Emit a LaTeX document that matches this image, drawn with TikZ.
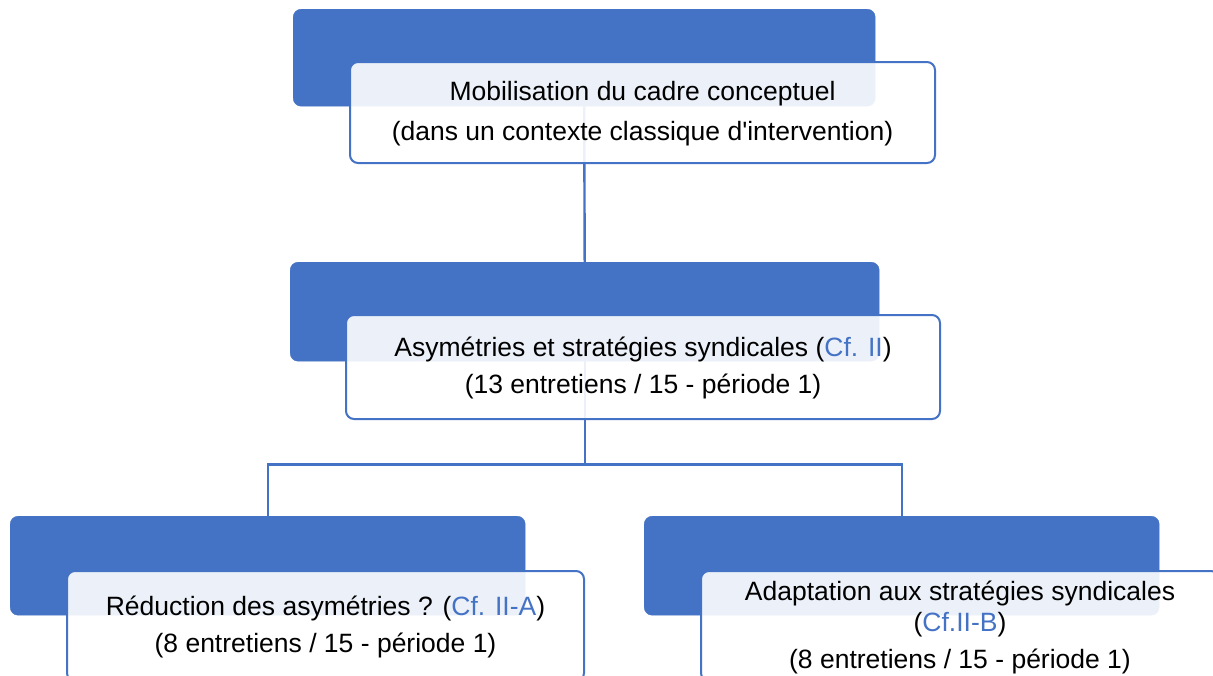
\documentclass[tikz,border=0pt]{standalone}
\usepackage{fontspec}
\setmainfont{Liberation Sans}
\usetikzlibrary{positioning,backgrounds}

\definecolor{barblue}{HTML}{4472C4}
\newcommand{\cfref}[1]{\textcolor{barblue}{#1}}

\begin{document}
\begin{tikzpicture}[
  x=1pt, y=-1pt,
  bar/.style={draw=barblue, fill=barblue, rounded corners=8pt, anchor=north west,
    inner sep=0pt},
  card/.style={draw=barblue, line width=2pt, fill=white, fill opacity=0.9,
    text opacity=1, rounded corners=8pt, align=center, inner sep=0pt,
    font=\fontsize{26.5}{31}\selectfont},
  link/.style={draw=barblue, line width=2.4pt}
]
\useasboundingbox (0,0) rectangle (1213,675);
\clip (0,0) rectangle (1213,675);

% top level
\node[bar, minimum width=582pt, minimum height=97pt] (topbar) at (293,9) {};
\node[card, minimum width=585pt, minimum height=101pt,
  below right=52pt and 56pt of topbar.north west] (topcard)
  {\strut Mobilisation du cadre conceptuel\\[9pt](dans un contexte classique d\textquotesingle intervention)};

% middle level
\node[bar, minimum width=589pt, minimum height=99pt] (midbar) at (290,262) {};
\node[card, minimum width=594pt, minimum height=104pt,
  below right=52pt and 55pt of midbar.north west] (midcard)
  {\strut Asymétries et stratégies syndicales (\cfref{Cf. II})\\[6pt](13 entretiens / 15 - période 1)};

% bottom level
\node[bar, minimum width=515pt, minimum height=99pt] (leftbar) at (10,516) {};
\node[card, minimum width=517pt, minimum height=110pt,
  below right=54pt and 56pt of leftbar.north west] (leftcard)
  {\strut Réduction des asymétries ? (\cfref{Cf. II-A})\\[6pt](8 entretiens / 15 - période 1)};

\node[bar, minimum width=515pt, minimum height=99pt] (rightbar) at (644,516) {};
\node[card, minimum width=518pt, minimum height=110pt,
  below right=54pt and 56pt of rightbar.north west] (rightcard)
  {\strut Adaptation aux stratégies syndicales\\(\cfref{Cf.II-B})\\[6pt](8 entretiens / 15 - période 1)};

\begin{scope}[on background layer]
\draw[link] (topbar.south) -- (midbar.north);
\draw[link] (midbar.south) -- ++(0,103) -| (leftbar.north);
\draw[link] (midbar.south) -- ++(0,103) -| (rightbar.north);
\end{scope}
\end{tikzpicture}
\end{document}
